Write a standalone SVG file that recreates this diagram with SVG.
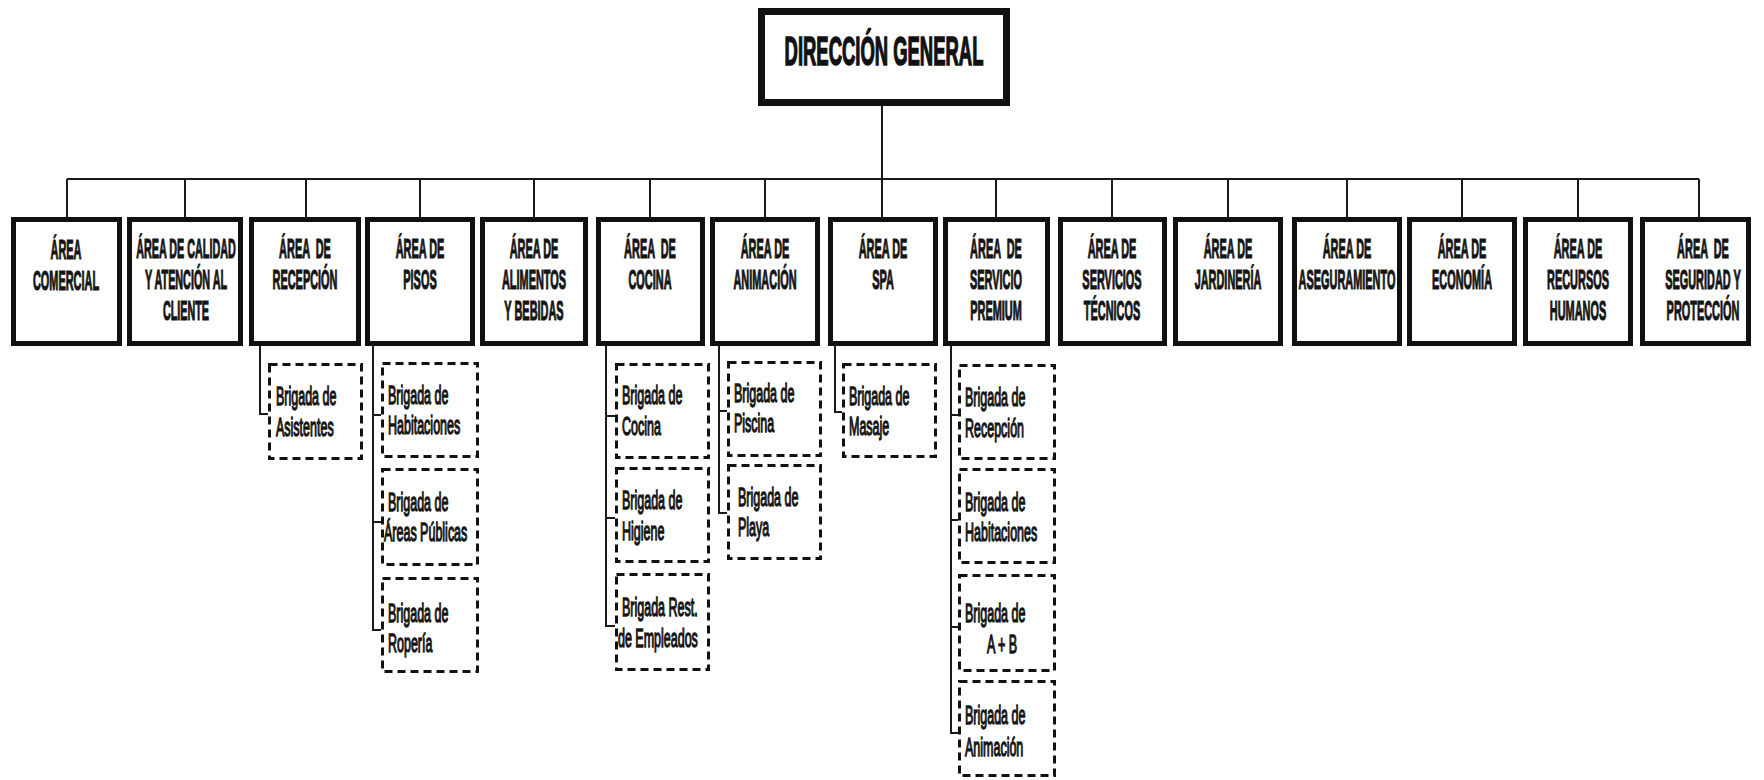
<svg xmlns="http://www.w3.org/2000/svg" width="1764" height="780" viewBox="0 0 1764 780">
  <style>
    .bg { fill: #ffffff; }
    .top { fill: #ffffff; stroke: #111111; stroke-width: 7; }
    .area { fill: #ffffff; stroke: #111111; stroke-width: 5; }
    .brig { fill: #ffffff; stroke: #111111; stroke-width: 3; stroke-dasharray: 8 5; }
    .wire { fill: none; stroke: #1a1a1a; stroke-width: 2; }
    .title { font-family: "Liberation Sans", Arial, sans-serif; font-weight: bold; font-size: 41px; fill: #111111; stroke: #111111; stroke-width: 1.6; text-anchor: middle; }
    .hd { font-family: "Liberation Sans", Arial, sans-serif; font-weight: bold; font-size: 28px; fill: #151515; stroke: #151515; stroke-width: 1.2; text-anchor: middle; }
    .sb { font-family: "Liberation Sans", Arial, sans-serif; font-size: 25px; fill: #151515; stroke: #151515; stroke-width: 1.3; }
    .sbc { text-anchor: middle; }
  </style>
  <rect class="bg" x="0" y="0" width="1764" height="780"/>

  <!-- connectors -->
  <g id="connectors">
    <path class="wire" d="M882 106 V179 M67 179 H1699"/>
    <path class="wire" d="M67 179 V217 M185 179 V217 M306 179 V217 M420 179 V217 M534 179 V217 M650 179 V217 M765 179 V217 M882 179 V217 M996 179 V217 M1112 179 V217 M1228 179 V217 M1347 179 V217 M1462 179 V217 M1578 179 V217 M1699 179 V217"/>
    <!-- recepción -->
    <path class="wire" d="M260 346 V414 H268"/>
    <!-- pisos -->
    <path class="wire" d="M373 346 V630 H381 M373 415 H381 M373 522 H381"/>
    <!-- cocina -->
    <path class="wire" d="M606 346 V626 H615 M606 416 H615 M606 518 H615"/>
    <!-- animación -->
    <path class="wire" d="M719 346 V513 H727 M719 411 H727"/>
    <!-- spa -->
    <path class="wire" d="M835 346 V412 H842"/>
    <!-- servicio premium -->
    <path class="wire" d="M951 346 V733 H958 M951 415 H958 M951 520 H958 M951 627 H958"/>
  </g>

  <!-- top node -->
  <g id="direccion-general">
    <rect class="top" x="761.5" y="11.5" width="245" height="91"/>
    <text class="title" transform="translate(884,65) scale(0.45,1)">DIRECCIÓN GENERAL</text>
  </g>

  <!-- areas -->
  <g id="area-comercial">
    <rect class="area" x="13.5" y="219.5" width="106" height="124"/>
    <text class="hd" transform="translate(66,259) scale(0.39,1)">ÁREA</text>
    <text class="hd" transform="translate(66,290) scale(0.39,1)">COMERCIAL</text>
  </g>
  <g id="area-calidad">
    <rect class="area" x="129.5" y="219.5" width="111" height="124"/>
    <text class="hd" transform="translate(186,258) scale(0.385,1)">ÁREA DE CALIDAD</text>
    <text class="hd" transform="translate(186,289) scale(0.385,1)">Y ATENCIÓN AL</text>
    <text class="hd" transform="translate(186,320) scale(0.385,1)">CLIENTE</text>
  </g>
  <g id="area-recepcion">
    <rect class="area" x="251.5" y="219.5" width="107" height="124"/>
    <text class="hd" transform="translate(305,258) scale(0.39,1)" xml:space="preserve">ÁREA  DE</text>
    <text class="hd" transform="translate(305,289) scale(0.39,1)">RECEPCIÓN</text>
  </g>
  <g id="area-pisos">
    <rect class="area" x="367.5" y="219.5" width="105" height="124"/>
    <text class="hd" transform="translate(420,258) scale(0.39,1)">ÁREA DE</text>
    <text class="hd" transform="translate(420,289) scale(0.39,1)">PISOS</text>
  </g>
  <g id="area-alimentos">
    <rect class="area" x="482.5" y="219.5" width="103" height="124"/>
    <text class="hd" transform="translate(534,258) scale(0.39,1)">ÁREA DE</text>
    <text class="hd" transform="translate(534,289) scale(0.39,1)">ALIMENTOS</text>
    <text class="hd" transform="translate(534,320) scale(0.39,1)">Y BEBIDAS</text>
  </g>
  <g id="area-cocina">
    <rect class="area" x="598.5" y="219.5" width="104" height="124"/>
    <text class="hd" transform="translate(650,258) scale(0.39,1)" xml:space="preserve">ÁREA  DE</text>
    <text class="hd" transform="translate(650,289) scale(0.39,1)">COCINA</text>
  </g>
  <g id="area-animacion">
    <rect class="area" x="712.5" y="219.5" width="105" height="124"/>
    <text class="hd" transform="translate(765,258) scale(0.39,1)">ÁREA DE</text>
    <text class="hd" transform="translate(765,289) scale(0.39,1)">ANIMACIÓN</text>
  </g>
  <g id="area-spa">
    <rect class="area" x="830.5" y="219.5" width="105" height="124"/>
    <text class="hd" transform="translate(883,258) scale(0.39,1)">ÁREA DE</text>
    <text class="hd" transform="translate(883,289) scale(0.39,1)">SPA</text>
  </g>
  <g id="area-premium">
    <rect class="area" x="945.5" y="219.5" width="102" height="124"/>
    <text class="hd" transform="translate(996,258) scale(0.39,1)" xml:space="preserve">ÁREA  DE</text>
    <text class="hd" transform="translate(996,289) scale(0.39,1)">SERVICIO</text>
    <text class="hd" transform="translate(996,320) scale(0.39,1)">PREMIUM</text>
  </g>
  <g id="area-tecnicos">
    <rect class="area" x="1060.5" y="219.5" width="104" height="124"/>
    <text class="hd" transform="translate(1112,258) scale(0.39,1)">ÁREA DE</text>
    <text class="hd" transform="translate(1112,289) scale(0.39,1)">SERVICIOS</text>
    <text class="hd" transform="translate(1112,320) scale(0.39,1)">TÉCNICOS</text>
  </g>
  <g id="area-jardineria">
    <rect class="area" x="1175.5" y="219.5" width="105" height="124"/>
    <text class="hd" transform="translate(1228,258) scale(0.39,1)">ÁREA DE</text>
    <text class="hd" transform="translate(1228,289) scale(0.39,1)">JARDINERÍA</text>
  </g>
  <g id="area-aseguramiento">
    <rect class="area" x="1294.5" y="219.5" width="105" height="124"/>
    <text class="hd" transform="translate(1347,258) scale(0.39,1)">ÁREA DE</text>
    <text class="hd" transform="translate(1347,289) scale(0.39,1)">ASEGURAMIENTO</text>
  </g>
  <g id="area-economia">
    <rect class="area" x="1409.5" y="219.5" width="105" height="124"/>
    <text class="hd" transform="translate(1462,258) scale(0.39,1)">ÁREA DE</text>
    <text class="hd" transform="translate(1462,289) scale(0.39,1)">ECONOMÍA</text>
  </g>
  <g id="area-rrhh">
    <rect class="area" x="1525.5" y="219.5" width="105" height="124"/>
    <text class="hd" transform="translate(1578,258) scale(0.39,1)">ÁREA DE</text>
    <text class="hd" transform="translate(1578,289) scale(0.39,1)">RECURSOS</text>
    <text class="hd" transform="translate(1578,320) scale(0.39,1)">HUMANOS</text>
  </g>
  <g id="area-seguridad">
    <rect class="area" x="1642.5" y="219.5" width="106" height="124"/>
    <text class="hd" transform="translate(1703,258) scale(0.39,1)" xml:space="preserve">ÁREA  DE</text>
    <text class="hd" transform="translate(1703,289) scale(0.39,1)">SEGURIDAD Y</text>
    <text class="hd" transform="translate(1703,320) scale(0.39,1)">PROTECCIÓN</text>
  </g>

  <!-- brigadas -->
  <g id="brigada-asistentes">
    <rect class="brig" x="269.5" y="364.5" width="92" height="94"/>
    <text class="sb" transform="translate(276,405) scale(0.5,1)">Brigada de</text>
    <text class="sb" transform="translate(276,436) scale(0.5,1)">Asistentes</text>
  </g>

  <g id="brigada-habitaciones-pisos">
    <rect class="brig" x="382.5" y="363.5" width="95" height="93"/>
    <text class="sb" transform="translate(388,404) scale(0.5,1)">Brigada de</text>
    <text class="sb" transform="translate(388,434) scale(0.5,1)">Habitaciones</text>
  </g>
  <g id="brigada-areas-publicas">
    <rect class="brig" x="382.5" y="469.5" width="95" height="95"/>
    <text class="sb" transform="translate(388,511) scale(0.5,1)">Brigada de</text>
    <text class="sb" transform="translate(384,541) scale(0.5,1)">Áreas Públicas</text>
  </g>
  <g id="brigada-roperia">
    <rect class="brig" x="382.5" y="578.5" width="95" height="93"/>
    <text class="sb" transform="translate(388,622) scale(0.5,1)">Brigada de</text>
    <text class="sb" transform="translate(388,652) scale(0.5,1)">Ropería</text>
  </g>

  <g id="brigada-cocina">
    <rect class="brig" x="616.5" y="364.5" width="92" height="93"/>
    <text class="sb" transform="translate(622,404) scale(0.5,1)">Brigada de</text>
    <text class="sb" transform="translate(622,435) scale(0.5,1)">Cocina</text>
  </g>
  <g id="brigada-higiene">
    <rect class="brig" x="616.5" y="468.5" width="92" height="93"/>
    <text class="sb" transform="translate(622,509) scale(0.5,1)">Brigada de</text>
    <text class="sb" transform="translate(622,540) scale(0.5,1)">Higiene</text>
  </g>
  <g id="brigada-rest-empleados">
    <rect class="brig" x="616.5" y="574.5" width="92" height="95"/>
    <text class="sb" transform="translate(622,616) scale(0.5,1)">Brigada Rest.</text>
    <text class="sb" transform="translate(618,647) scale(0.5,1)">de Empleados</text>
  </g>

  <g id="brigada-piscina">
    <rect class="brig" x="728.5" y="362.5" width="92" height="93"/>
    <text class="sb" transform="translate(734,402) scale(0.5,1)">Brigada de</text>
    <text class="sb" transform="translate(734,432) scale(0.5,1)">Piscina</text>
  </g>
  <g id="brigada-playa">
    <rect class="brig" x="728.5" y="465.5" width="92" height="93"/>
    <text class="sb" transform="translate(738,506) scale(0.5,1)">Brigada de</text>
    <text class="sb" transform="translate(738,536) scale(0.5,1)">Playa</text>
  </g>

  <g id="brigada-masaje">
    <rect class="brig" x="843.5" y="364.5" width="92" height="92"/>
    <text class="sb" transform="translate(849,405) scale(0.5,1)">Brigada de</text>
    <text class="sb" transform="translate(849,435) scale(0.5,1)">Masaje</text>
  </g>

  <g id="brigada-recepcion-premium">
    <rect class="brig" x="959.5" y="365.5" width="95" height="93"/>
    <text class="sb" transform="translate(965,406) scale(0.5,1)">Brigada de</text>
    <text class="sb" transform="translate(965,437) scale(0.5,1)">Recepción</text>
  </g>
  <g id="brigada-habitaciones-premium">
    <rect class="brig" x="959.5" y="469.5" width="95" height="93"/>
    <text class="sb" transform="translate(965,511) scale(0.5,1)">Brigada de</text>
    <text class="sb" transform="translate(965,541) scale(0.5,1)">Habitaciones</text>
  </g>
  <g id="brigada-ayb">
    <rect class="brig" x="959.5" y="575.5" width="95" height="95"/>
    <text class="sb" transform="translate(965,622) scale(0.5,1)">Brigada de</text>
    <text class="sb sbc" transform="translate(1002,653) scale(0.5,1)">A + B</text>
  </g>
  <g id="brigada-animacion">
    <rect class="brig" x="959.5" y="681.5" width="95" height="94"/>
    <text class="sb" transform="translate(965,724) scale(0.5,1)">Brigada de</text>
    <text class="sb" transform="translate(965,756) scale(0.5,1)">Animación</text>
  </g>
</svg>
